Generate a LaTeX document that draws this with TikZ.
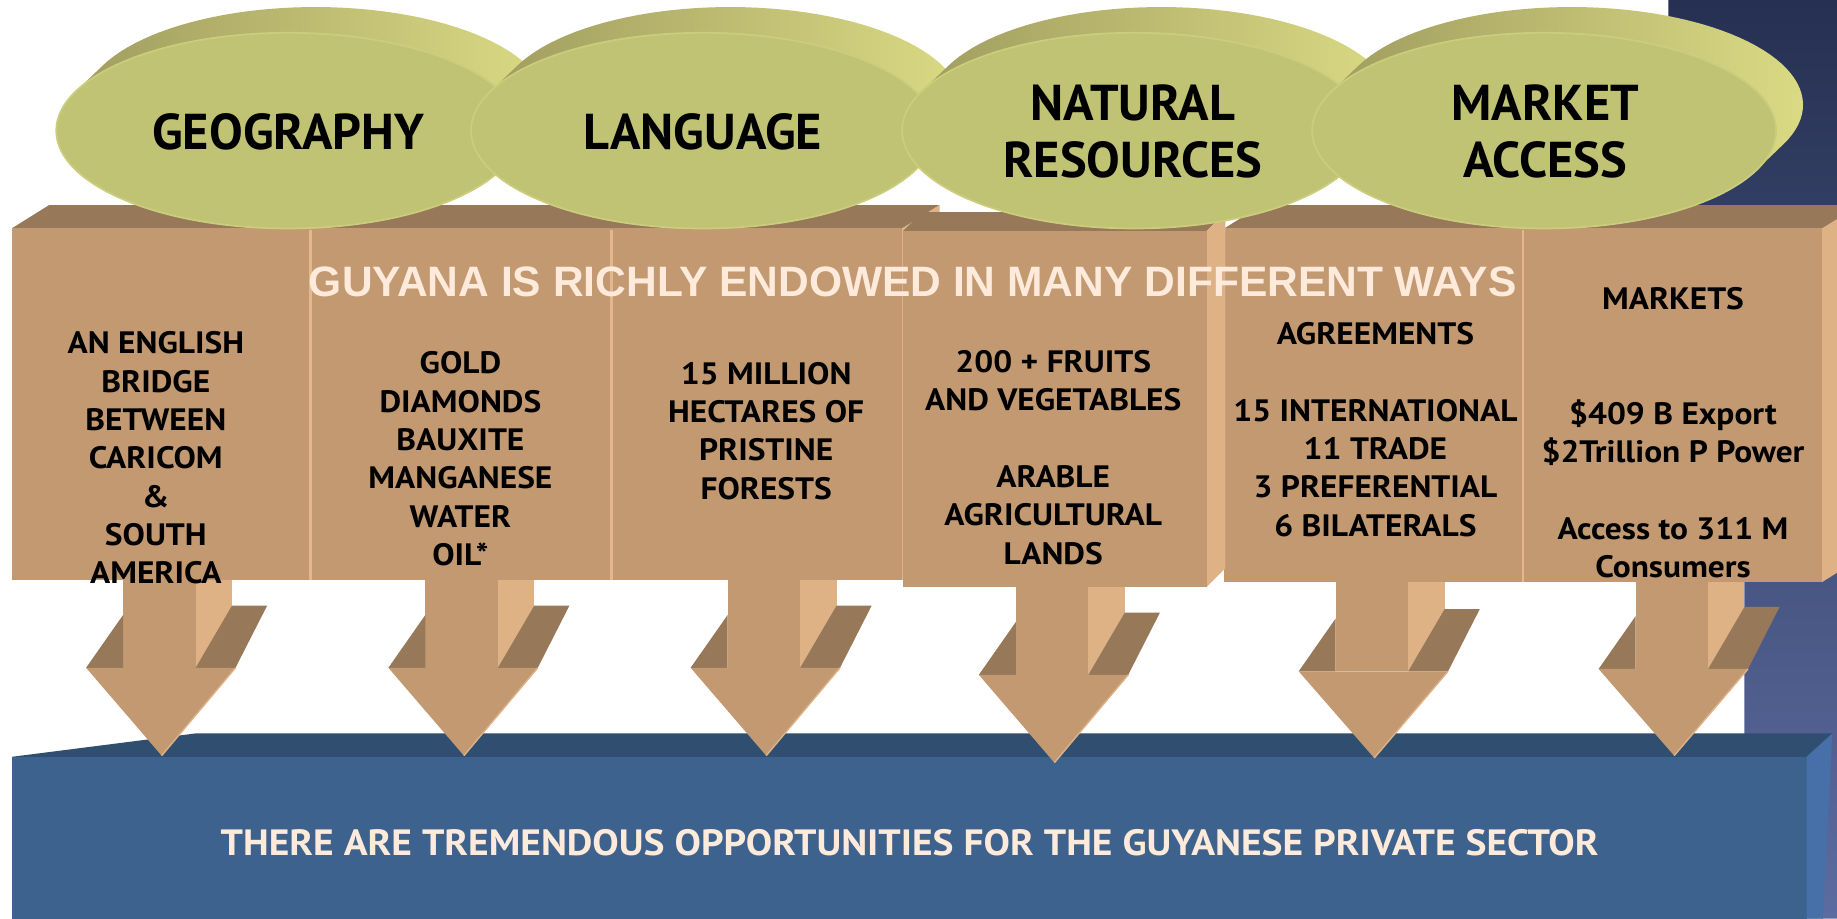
\documentclass[tikz,border=0pt]{standalone}
\usepackage{fontspec}
\setmainfont{PT Sans}
\newfontfamily\widefont{PT Sans}[FakeStretch=1.08]
\newfontfamily\headfont{Liberation Sans}
\definecolor{tanfront}{RGB}{194,153,113}
\definecolor{tantop}{RGB}{151,120,89}
\definecolor{tanside}{RGB}{223,178,134}
\definecolor{tanline}{RGB}{226,184,140}
\definecolor{olivefront}{RGB}{192,194,116}
\definecolor{oliverim}{RGB}{204,205,124}
\definecolor{olivedark}{RGB}{158,155,94}
\definecolor{olivelight}{RGB}{218,218,132}
\definecolor{basefront}{RGB}{61,98,142}
\definecolor{basetop}{RGB}{48,78,112}
\definecolor{baseside}{RGB}{72,112,168}
\definecolor{navytop}{RGB}{38,48,82}
\definecolor{navybot}{RGB}{92,108,160}
\definecolor{peach}{RGB}{253,234,218}
\newcommand\gyarrow[4]{%
  \fill[tanside] ({#1+29},{#4-2}) rectangle ({#1+60},#3);
  \fill[tanfront] ({#1-33},{#4-2}) rectangle ({#1+29},#3);
  \fill[tantop] ({#1-64.5},#3) -- ({#1-33},{#3-45}) -- ({#1-33},#3) -- cycle;
  \fill[tantop] ({#1+60},{#3-53}) -- ({#1+90},{#3-53}) -- ({#1+63},#3) -- ({#1+29},#3) -- cycle;
  \fill[tanfront] ({#1-64.5},#3) -- ({#1+63},#3) -- (#1,#2) -- cycle;
  \draw[tanside, line width=1.2] ({#1+63},#3) -- (#1,#2);
}
\newcommand\gyoval[1]{%
  \shade[left color=olivedark, right color=olivelight]
    plot[variable=\t, domain=23.8:203.8, samples=60] ({#1+198*cos(\t)},{111.5+83.5*sin(\t)})
    -- plot[variable=\t, domain=203.8:383.8, samples=60] ({#1+23+198*cos(\t)},{89.5+83.5*sin(\t)})
    -- cycle;
  \fill[olivefront, draw=oliverim, line width=1.5] (#1,111.5) ellipse [x radius=198pt, y radius=83.5pt];
}
\begin{document}
\begin{tikzpicture}[x=1pt,y=-1pt,
  boxtext/.style={font=\widefont\fontsize{26.4}{32.7}\selectfont\bfseries, align=center, inner sep=0pt, anchor=north, text=black},
  ovaltext/.style={font=\fontsize{43}{48.7}\selectfont\bfseries, align=center, inner sep=0pt, text=black},
  headtext/.style={font=\headfont\fontsize{36.3}{40}\selectfont\bfseries, inner sep=0pt, text=peach, anchor=base},
  basetext/.style={font=\widefont\fontsize{31.2}{36}\selectfont\bfseries, inner sep=0pt, text=peach, anchor=base},
  edge/.style={draw=tanline, line width=2}]
\useasboundingbox (0,0) rectangle (1568,784);
\clip (0,0) rectangle (1568,784);
\fill[white] (0,0) rectangle (1568,784);
% right background panel
\shade[top color=navytop, bottom color=navybot] (1424,0) -- (1568,0) -- (1568,784) -- (1489,784) -- (1489,420) -- (1424,420) -- cycle;
% blue base
\fill[basetop] (10,646) -- (167,626) -- (1564,626) -- (1542,646) -- cycle;
\fill[basefront] (10,646) rectangle (1542,784);
\fill[baseside] (1542,646) -- (1564,626) -- (1556,784) -- (1542,784) -- cycle;
\node[basetext] (base) at (776.5,730) {THERE ARE TREMENDOUS OPPORTUNITIES FOR THE GUYANESE PRIVATE SECTOR};
% arrows
\gyarrow{138}{645}{570}{495}
\gyarrow{396}{645}{570}{495}
\gyarrow{654}{645}{570}{495}
\gyarrow{900}{651}{576}{501}
\gyarrow{1173}{647}{573}{497}
\gyarrow{1429}{645}{571}{497}
% boxes 1-3
\fill[tantop] (10,195) -- (42,175) -- (802,175) -- (770,195) -- cycle;
\fill[tanside] (770,195) -- (802,175) -- (802,475) -- (770,495) -- cycle;
\fill[tanfront] (10,195) rectangle (770,495);
% boxes 5-6
\fill[tantop] (1045,195) -- (1077,175) -- (1587,175) -- (1555,195) -- cycle;
\fill[tanside] (1555,195) -- (1587,175) -- (1587,477) -- (1555,497) -- cycle;
\fill[tanfront] (1045,195) rectangle (1555,497);
% box 4
\fill[tantop] (771,197) -- (787,181) -- (1046,181) -- (1030,197) -- cycle;
\fill[tanside] (1030,197) -- (1046,181) -- (1046,485) -- (1030,501) -- cycle;
\fill[tanfront] (771,197) rectangle (1030,501);
% box borders
\draw[edge] (265,196) -- (265,495);
\draw[edge] (522,196) -- (522,495);
\draw[edge] (1300,196) -- (1300,497);
% box texts
\node[boxtext] (t1) at (133,283) {AN ENGLISH\\BRIDGE\\BETWEEN\\CARICOM\\\&\\SOUTH\\AMERICA};
\node[boxtext] (t2) at (393,300) {GOLD\\DIAMONDS\\BAUXITE\\MANGANESE\\WATER\\OIL*};
\node[boxtext] (t3) at (654,309) {15 MILLION\\HECTARES OF\\PRISTINE\\FORESTS};
\node[boxtext] (t4) at (899,299) {200 + FRUITS\\AND VEGETABLES\\[32.7pt]ARABLE\\AGRICULTURAL\\LANDS};
\node[boxtext] (t5) at (1174,275) {AGREEMENTS\\[32.7pt]15 INTERNATIONAL\\11 TRADE\\3 PREFERENTIAL\\6 BILATERALS};
\node[boxtext] (t6) at (1428,245) {MARKETS\\[65.4pt]\$409 B Export\\\$2Trillion P Power\\[32.7pt]Access to 311 M\\Consumers};
% ovals
\gyoval{246}
\gyoval{600}
\gyoval{968}
\gyoval{1318}
\node[ovaltext, anchor=base] (geo) at (246,128) {GEOGRAPHY};
\node[ovaltext, anchor=base] (lang) at (600,128) {LANGUAGE};
\node[ovaltext, anchor=north] (nat) at (967,72) {NATURAL\\RESOURCES};
\node[ovaltext, anchor=north] (mkt) at (1319,72.5) {MARKET\\ACCESS};
% headline
\node[headtext] (head) at (779,253) {GUYANA IS RICHLY ENDOWED IN MANY DIFFERENT WAYS};
\end{tikzpicture}
\end{document}
